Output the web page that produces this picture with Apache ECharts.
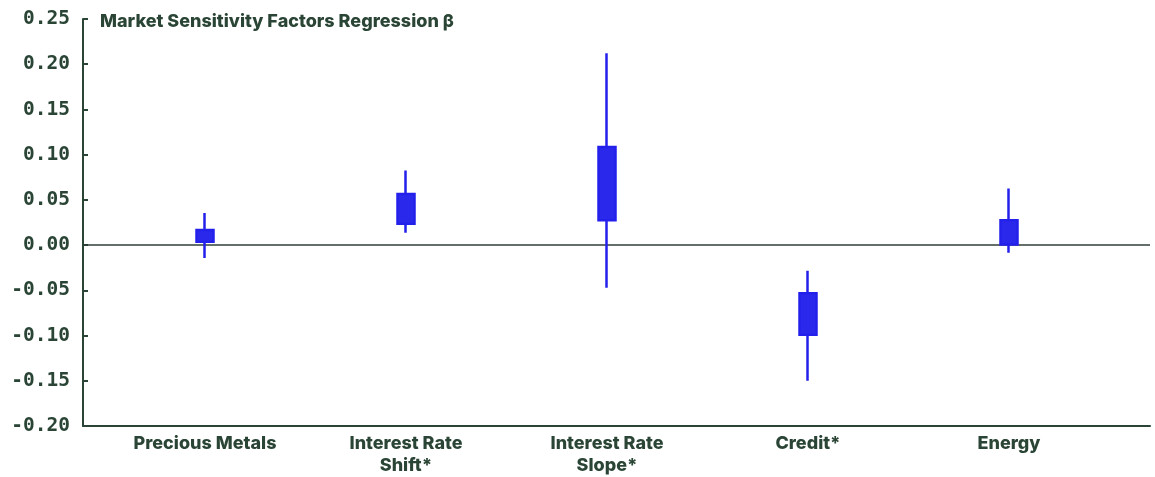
<!DOCTYPE html>
<html>
<head>
<meta charset="utf-8">
<script src="https://cdn.jsdelivr.net/npm/echarts@6/dist/echarts.min.js"></script>
<style>html,body{margin:0;padding:0;background:#fff;}#c{width:1155px;height:477px;}</style>
</head>
<body>
<div id="c"></div>
<script>
const categories = ['Precious Metals', 'Interest Rate\nShift*', 'Interest Rate\nSlope*', 'Credit*', 'Energy'];
// [box bottom, box top, whisker low, whisker high]
const boxLow   = [0.003, 0.023, 0.027, -0.100, 0.000];
const boxHigh  = [0.016, 0.056, 0.108, -0.054, 0.027];
const whiskLow = [-0.015, 0.013, -0.048, -0.151, -0.009];
const whiskHigh= [0.035, 0.082, 0.212, -0.029, 0.062];
const yTicks = { min: -0.20, max: 0.25, interval: 0.05 };
const titleText = 'Market Sensitivity Factors Regression \u03B2';

const green = '#2a4535';
const data = categories.map((c, i) => [boxLow[i], boxHigh[i], whiskLow[i], whiskHigh[i]]);

const chart = echarts.init(document.getElementById('c'), null, { renderer: 'canvas' });
chart.setOption({
  animation: false,
  backgroundColor: '#fff',
  title: {
    text: titleText, left: 95, top: 8,
    textStyle: { fontFamily: 'Inter', fontWeight: 800, fontSize: 18, color: green }
  },
  grid: [
    { left: 83, right: 5, top: 19, bottom: 51 },
    { left: 104.5, right: 45.5, top: 19, bottom: 51 }
  ],
  xAxis: [
    { gridIndex: 0, type: 'value', min: 0, max: 1,
      axisLine: { show: true, onZero: false, lineStyle: { color: green, width: 2 } },
      axisTick: { show: false }, axisLabel: { show: false }, splitLine: { show: false } },
    { gridIndex: 1, type: 'category', data: categories, boundaryGap: true,
      axisLine: { show: false }, axisTick: { show: false }, splitLine: { show: false },
      axisLabel: { margin: 8, fontFamily: 'Inter', fontWeight: 800, fontSize: 18, color: green, lineHeight: 22 } }
  ],
  yAxis: [
    { gridIndex: 0, type: 'value', min: yTicks.min, max: yTicks.max, interval: yTicks.interval,
      axisLine: { show: true, onZero: false, lineStyle: { color: green, width: 2 } },
      axisTick: { show: true, inside: true, length: 5, lineStyle: { color: green, width: 2 } },
      splitLine: { show: false },
      axisLabel: { margin: 13, fontFamily: 'DejaVu Sans Mono', fontWeight: 'bold', fontSize: 19.5, color: green,
        formatter: v => v.toFixed(2) } },
    { gridIndex: 1, type: 'value', min: yTicks.min, max: yTicks.max, interval: yTicks.interval, show: false }
  ],
  series: [
    { type: 'line', xAxisIndex: 0, yAxisIndex: 0, data: [], silent: true,
      markLine: { silent: true, symbol: ['none', 'none'], label: { show: false },
        lineStyle: { color: '#2f3f36', width: 1.5, type: 'solid' },
        data: [{ yAxis: 0 }] } },
    { type: 'candlestick', xAxisIndex: 1, yAxisIndex: 1, data: data, barWidth: 17, z: 5,
      itemStyle: { color: '#2a28ea', color0: '#2a28ea', borderColor: '#2420ec', borderColor0: '#2420ec', borderWidth: 2.5 } }
  ]
});
</script>
</body>
</html>
